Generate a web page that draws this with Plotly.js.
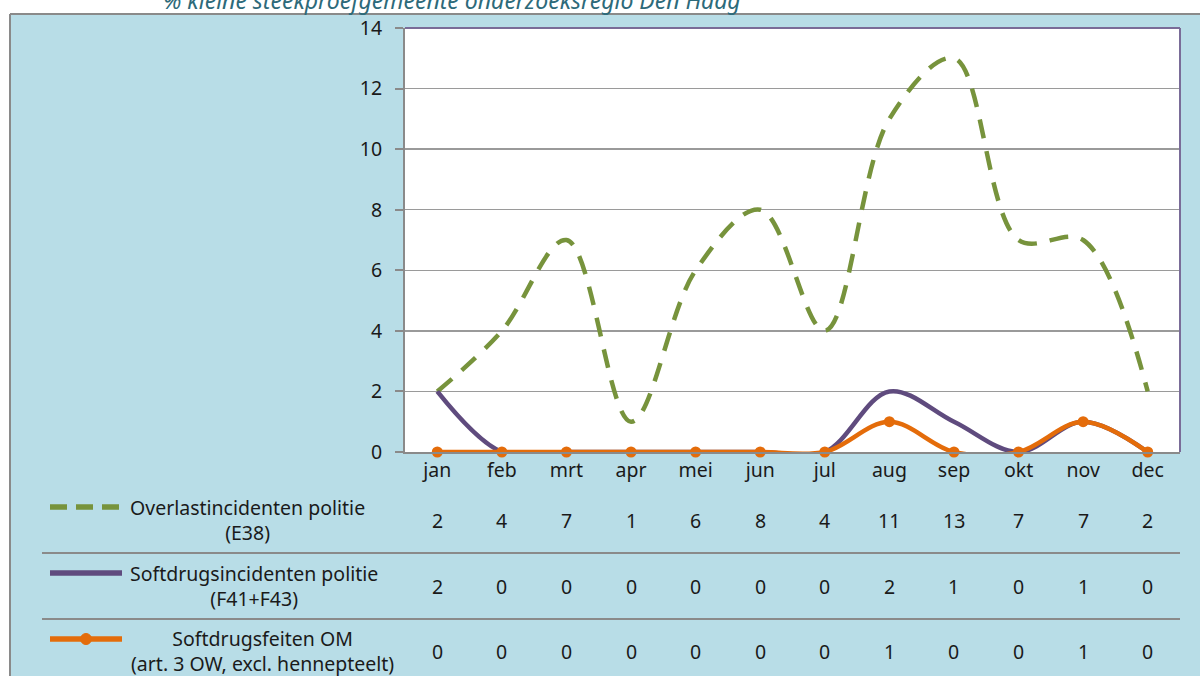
<!DOCTYPE html>
<html>
<head>
<meta charset="utf-8">
<script src="https://cdn.plot.ly/plotly-3.0.1.min.js"></script>
<style>html,body{margin:0;padding:0;background:#fff;}#chart{width:1200px;height:676px;}</style>
</head>
<body>
<div id="chart"></div>
<script>
var months = ['jan','feb','mrt','apr','mei','jun','jul','aug','sep','okt','nov','dec'];
var overlast = [2,4,7,1,6,8,4,11,13,7,7,2];
var softInc = [2,0,0,0,0,0,0,2,1,0,1,0];
var softOM = [0,0,0,0,0,0,0,1,0,0,1,0];
var yTicks = [0,2,4,6,8,10,12,14];
var seriesNames = [
  'Overlastincidenten politie<br>(E38)',
  'Softdrugsincidenten politie<br>(F41+F43)',
  'Softdrugsfeiten OM<br>(art. 3 OW, excl. hennepteelt)'
];
var titleText = '% kleine steekproefgemeente onderzoeksregio Den Haag';

var FONT = 'Noto Sans, Open Sans, sans-serif';
var TXT = '#1a1a1a';
var FS = 19.5;
var W = 1200, H = 676, L = 405, R = 20, T = 28, B = 224;
var PW = W - L - R, PH = H - T - B;
function px(x){ return (x - L) / PW; }
function py(y){ return (H - B - y) / PH; }

var green = '#77933c', purple = '#5f4b7e', orange = '#e46c0a', blue = '#b8dde7', border = '#8a8a8a';

var traces = [
  {x: months, y: overlast, type: 'scatter', mode: 'lines', line: {color: green, width: 4.5, dash: '19px,13px', shape: 'spline', smoothing: 1}, cliponaxis: false, hoverinfo: 'skip'},
  {x: months, y: softInc, type: 'scatter', mode: 'lines', line: {color: purple, width: 4.5, shape: 'spline', smoothing: 1}, cliponaxis: false, hoverinfo: 'skip'},
  {x: months, y: softOM, type: 'scatter', mode: 'lines+markers', line: {color: orange, width: 4.5, shape: 'spline', smoothing: 1}, marker: {color: orange, size: 11}, cliponaxis: false, hoverinfo: 'skip'}
];

var shapes = [
  // white margins around the light blue box
  {type: 'rect', xref: 'paper', yref: 'paper', x0: px(-20), x1: px(1220), y0: py(14), y1: py(-20), fillcolor: '#ffffff', line: {width: 0}, layer: 'below'},
  {type: 'rect', xref: 'paper', yref: 'paper', x0: px(-20), x1: px(10), y0: py(700), y1: py(-20), fillcolor: '#ffffff', line: {width: 0}, layer: 'below'},
  // box borders
  {type: 'line', xref: 'paper', yref: 'paper', x0: px(10), x1: px(1220), y0: py(14), y1: py(14), line: {color: border, width: 2}, layer: 'below'},
  {type: 'line', xref: 'paper', yref: 'paper', x0: px(10), x1: px(10), y0: py(14), y1: py(700), line: {color: border, width: 2}, layer: 'below'},
  // plot border top & right
  {type: 'line', xref: 'paper', yref: 'paper', x0: 0, x1: 1, y0: 1, y1: 1, line: {color: '#7a6c98', width: 2}},
  {type: 'line', xref: 'paper', yref: 'paper', x0: 1, x1: 1, y0: 0, y1: 1, line: {color: '#7a6c98', width: 2}},
  // table separators
  {type: 'line', xref: 'paper', yref: 'paper', x0: px(42), x1: 1, y0: py(553), y1: py(553), line: {color: border, width: 2}},
  {type: 'line', xref: 'paper', yref: 'paper', x0: px(42), x1: 1, y0: py(619), y1: py(619), line: {color: border, width: 2}},
  // legend keys
  {type: 'line', xref: 'paper', yref: 'paper', x0: px(50), x1: px(121), y0: py(507), y1: py(507), line: {color: green, width: 5.5, dash: '17px,9px'}},
  {type: 'line', xref: 'paper', yref: 'paper', x0: px(50), x1: px(122), y0: py(573), y1: py(573), line: {color: purple, width: 5.5}},
  {type: 'line', xref: 'paper', yref: 'paper', x0: px(50), x1: px(122), y0: py(639), y1: py(639), line: {color: orange, width: 5.5}},
  {type: 'circle', xref: 'paper', yref: 'paper', xsizemode: 'pixel', ysizemode: 'pixel', xanchor: px(86), yanchor: py(639), x0: -5.5, x1: 5.5, y0: -5.5, y1: 5.5, fillcolor: orange, line: {color: orange, width: 1}}
];

var annotations = [];
annotations.push({xref: 'paper', yref: 'paper', x: px(452), y: py(0), text: titleText, showarrow: false, xanchor: 'center', yanchor: 'middle', font: {family: FONT, size: 23, color: '#2d6a7a', style: 'italic'}});

var labelCenters = [247, 254, 262];
var labelYs = [520, 586, 651];
var rows = [overlast, softInc, softOM];
for (var r = 0; r < 3; r++) {
  annotations.push({xref: 'paper', yref: 'paper', x: px(labelCenters[r]), y: py(labelYs[r]), text: seriesNames[r], showarrow: false, xanchor: 'center', yanchor: 'middle', align: 'center', font: {family: FONT, size: FS, color: TXT}});
  for (var i = 0; i < months.length; i++) {
    annotations.push({xref: 'x', yref: 'paper', x: months[i], y: py(labelYs[r]), text: String(rows[r][i]), showarrow: false, xanchor: 'center', yanchor: 'middle', font: {family: FONT, size: FS, color: TXT}});
  }
}

var layout = {
  width: W, height: H,
  margin: {l: L, r: R, t: T, b: B, pad: 0},
  paper_bgcolor: blue,
  plot_bgcolor: '#ffffff',
  showlegend: false,
  font: {family: FONT, size: FS, color: TXT},
  xaxis: {type: 'category', range: [-0.5, 11.5], showgrid: false, zeroline: false, showline: true, linecolor: border, linewidth: 2, ticks: '', tickfont: {family: FONT, size: FS, color: TXT}, fixedrange: true, automargin: false},
  yaxis: {range: [0, 14], tickvals: yTicks, ticktext: yTicks.map(String), showgrid: true, gridcolor: '#9a9a9a', gridwidth: 1.5, zeroline: false, showline: true, linecolor: border, linewidth: 2, ticks: 'outside', ticklen: 8, tickcolor: border, tickwidth: 2, tickfont: {family: FONT, size: FS, color: TXT}, ticklabelstandoff: 9, fixedrange: true, automargin: false},
  shapes: shapes,
  annotations: annotations
};

Plotly.newPlot('chart', traces, layout, {displayModeBar: false, staticPlot: true});
</script>
</body>
</html>
